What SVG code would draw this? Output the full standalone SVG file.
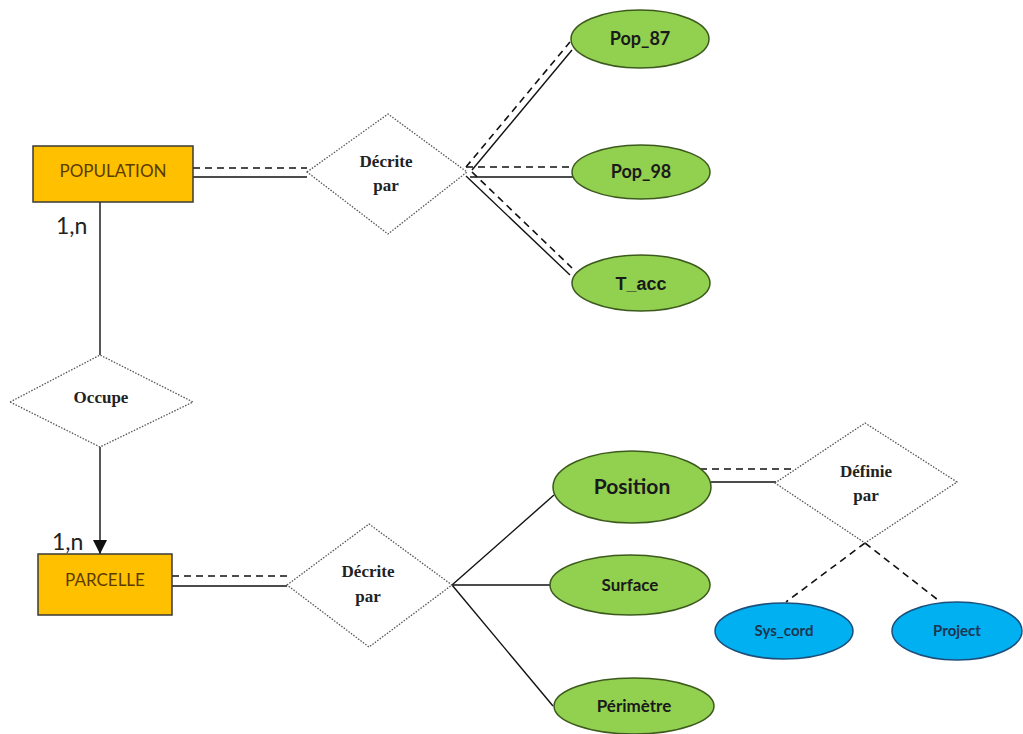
<svg xmlns="http://www.w3.org/2000/svg" width="1023" height="734" viewBox="0 0 1023 734">
<defs>
<style>
.ent{fill:#FFC000;stroke:#3a3a3a;stroke-width:1.5}
.entT{font-family:Lato,"Open Sans",sans-serif;font-size:17px;fill:#5a3c00;text-anchor:middle}
.rel{fill:#fff;stroke:#555;stroke-width:1.3;stroke-dasharray:1.5 1.5}
.relT{font-family:"Liberation Serif",serif;font-weight:bold;font-size:17px;fill:#222;text-anchor:middle}
.att{fill:#92D050;stroke:#3d5a1e;stroke-width:1.5}
.attT{font-family:Lato,"Open Sans",sans-serif;font-weight:bold;font-size:18px;fill:#1a1a1a;text-anchor:middle}
.att2{fill:#00B0F0;stroke:#1d4f7a;stroke-width:1.5}
.att2T{font-family:Lato,"Open Sans",sans-serif;font-weight:bold;font-size:15px;fill:#1d3550;text-anchor:middle}
.card{font-family:Lato,"Open Sans",sans-serif;font-size:23px;fill:#222}
.s{stroke:#111;stroke-width:1.4;fill:none}
.d{stroke:#111;stroke-width:1.6;fill:none;stroke-dasharray:7 5}
</style>
<marker id="arr" viewBox="0 0 10 10" refX="10" refY="5" markerWidth="14" markerHeight="14" markerUnits="userSpaceOnUse" orient="auto">
<path d="M0,0 L10,5 L0,10 z" fill="#111"/>
</marker>
</defs>
<rect width="1023" height="734" fill="#fff"/>
<g id="connectors">
<line class="d" x1="193" y1="168" x2="307" y2="168"/>
<line class="s" x1="193" y1="177" x2="307" y2="177"/>
<line class="d" x1="466" y1="167" x2="570" y2="42"/>
<line class="s" x1="472" y1="170" x2="572" y2="50"/>
<line class="d" x1="466" y1="167" x2="573" y2="167"/>
<line class="s" x1="470" y1="177" x2="573" y2="177"/>
<line class="s" x1="466" y1="176" x2="570" y2="275"/>
<line class="d" x1="472" y1="172" x2="572" y2="268"/>
<line class="s" x1="100" y1="202" x2="100" y2="355"/>
<line class="s" x1="100" y1="447" x2="100" y2="554" marker-end="url(#arr)"/>
<line class="d" x1="172" y1="576" x2="289" y2="576"/>
<line class="s" x1="172" y1="586" x2="287" y2="586"/>
<line class="s" x1="452" y1="585" x2="554" y2="495"/>
<line class="s" x1="452" y1="585" x2="550" y2="585"/>
<line class="s" x1="452" y1="585" x2="553" y2="706"/>
<line class="d" x1="700" y1="469" x2="792" y2="469"/>
<line class="s" x1="711" y1="482" x2="776" y2="482"/>
<line class="d" x1="865" y1="543" x2="786" y2="602"/>
<line class="d" x1="865" y1="543" x2="938" y2="600"/>
</g>
<g id="population">
<rect class="ent" x="33" y="146" width="160" height="56"/>
<text class="entT" x="113" y="177">POPULATION</text>
</g>
<text class="card" x="56" y="234">1,n</text>
<g id="decrite1">
<polygon class="rel" points="307,172 388,114 467,172 388,234"/>
<text class="relT" x="386" y="167">Décrite</text>
<text class="relT" x="386" y="191">par</text>
</g>
<g id="pop87">
<ellipse class="att" cx="640" cy="39" rx="69" ry="29"/>
<text class="attT" x="640" y="45">Pop_87</text>
</g>
<g id="pop98">
<ellipse class="att" cx="641" cy="172" rx="69" ry="27"/>
<text class="attT" x="641" y="178">Pop_98</text>
</g>
<g id="tacc">
<ellipse class="att" cx="641" cy="283" rx="69" ry="28"/>
<text class="attT" x="641" y="290" style="font-family:'Liberation Sans',Arial,sans-serif;font-size:18px">T_acc</text>
</g>
<g id="occupe">
<polygon class="rel" points="10,402 100,355 193,402 100,447"/>
<text class="relT" x="101" y="403">Occupe</text>
</g>
<text class="card" x="52" y="550">1,n</text>
<g id="parcelle">
<rect class="ent" x="38" y="554" width="134" height="61"/>
<text class="entT" x="105" y="586">PARCELLE</text>
</g>
<g id="decrite2">
<polygon class="rel" points="287,585 369,524 452,585 369,647"/>
<text class="relT" x="368" y="577">Décrite</text>
<text class="relT" x="368" y="602">par</text>
</g>
<g id="position">
<ellipse class="att" cx="632" cy="487" rx="79" ry="36"/>
<text class="attT" x="632" y="494" style="font-size:21px">Position</text>
</g>
<g id="surface">
<ellipse class="att" cx="630" cy="585" rx="80" ry="30"/>
<text class="attT" x="630" y="591" style="font-size:17px">Surface</text>
</g>
<g id="perimetre">
<ellipse class="att" cx="634" cy="706" rx="80" ry="28"/>
<text class="attT" x="634" y="712" style="font-size:17px">Périmètre</text>
</g>
<g id="definie">
<polygon class="rel" points="775,483 865,423 957,482 865,543"/>
<text class="relT" x="866" y="477">Définie</text>
<text class="relT" x="866" y="501">par</text>
</g>
<g id="syscord">
<ellipse class="att2" cx="784" cy="631" rx="69" ry="28"/>
<text class="att2T" x="784" y="636">Sys_cord</text>
</g>
<g id="project">
<ellipse class="att2" cx="957" cy="631" rx="65" ry="29"/>
<text class="att2T" x="957" y="636">Project</text>
</g>
</svg>
